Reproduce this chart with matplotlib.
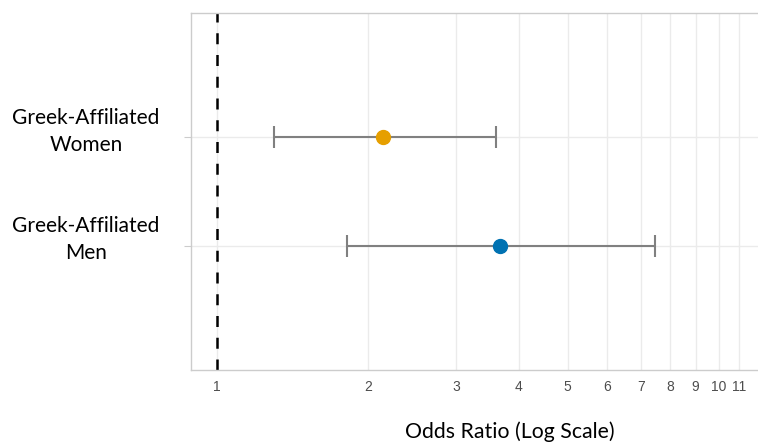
import matplotlib
matplotlib.use("Agg")
import matplotlib.pyplot as plt
from matplotlib.ticker import FixedLocator, FixedFormatter, NullLocator
from matplotlib.transforms import ScaledTranslation, blended_transform_factory

groups = ["Greek-Affiliated\nMen", "Greek-Affiliated\nWomen"]
odds_ratio = [3.67, 2.14]
ci_low = [1.82, 1.30]
ci_high = [7.47, 3.60]
colors = ["#0072B2", "#E69F00"]
x_ticks = [1, 2, 3, 4, 5, 6, 7, 8, 9, 10, 11]
x_tick_labels = [str(v) for v in x_ticks]

W, H = 758, 442
fig = plt.figure(figsize=(W / 100, H / 100), dpi=100)
left, right, bottom, top = 191, 829, 370, 13
ax = fig.add_axes([left / W, 1 - bottom / H, (right - left) / W, (bottom - top) / H])

ax.set_xscale("log")
ax.set_xlim(0.888, 16.6)
ax.set_ylim(-0.147, 3.147)

ypos = list(range(1, len(groups) + 1))

# grid
for v in x_ticks:
    ax.axvline(v, color="#ebebeb", lw=1.0, zorder=0)
for y in ypos:
    ax.axhline(y, color="#ebebeb", lw=1.0, zorder=0)

ax.axvline(1, color="black", lw=1.8, dashes=(4.4, 4.3), zorder=2)

for y, o, lo, hi, c in zip(ypos, odds_ratio, ci_low, ci_high, colors):
    ax.errorbar([o], [y], xerr=[[o - lo], [hi - o]], fmt="none", ecolor="#808080",
                elinewidth=1.5, capsize=8, capthick=1.5, zorder=3)
    ax.plot([o], [y], "o", color=c, markersize=10, zorder=4)

ax.xaxis.set_major_locator(FixedLocator(x_ticks))
ax.xaxis.set_major_formatter(FixedFormatter(x_tick_labels))
ax.xaxis.set_minor_locator(NullLocator())
ax.tick_params(axis="x", length=0, pad=7, labelsize=10, labelcolor="#4d4d4d")
for t in ax.get_xticklabels():
    t.set_fontfamily("Liberation Sans")

ax.set_yticks(ypos)
ax.set_yticklabels([""] * len(groups))
ax.tick_params(axis="y", length=5, color="#cccccc")

trans = blended_transform_factory(ax.transAxes, ax.transData) + \
    ScaledTranslation(0, 6 / 100, fig.dpi_scale_trans)
for y, g in zip(ypos, groups):
    ax.text(-0.1646, y, g, transform=trans, fontfamily="Lato", fontsize=15,
            color="black", ha="center", va="center", multialignment="center",
            linespacing=1.45, clip_on=False)

for s in ["left", "top", "bottom"]:
    ax.spines[s].set_color("#cccccc")
    ax.spines[s].set_linewidth(1.0)
ax.spines["right"].set_visible(False)

ax.set_xlabel("Odds Ratio (Log Scale)", fontfamily="Lato", fontsize=15.3, labelpad=20)

fig.savefig("out.png", dpi=100)
